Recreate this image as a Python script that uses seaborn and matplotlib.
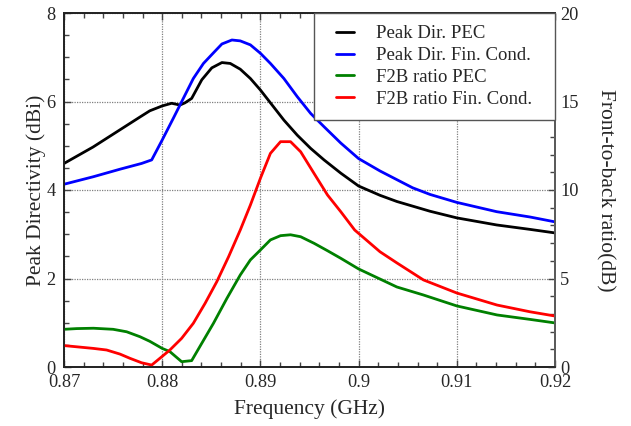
import numpy as np
import pandas as pd
import matplotlib
matplotlib.use("Agg")
import matplotlib.pyplot as plt
from matplotlib.legend_handler import HandlerLine2D
import seaborn as sns

# ---- data ----
f_pec_dir = [0.8700, 0.87295, 0.87774, 0.87874, 0.8800, 0.88096, 0.88181, 0.88232, 0.8830, 0.88403,
             0.88505, 0.88608, 0.88693, 0.88795, 0.88898, 0.8900, 0.89102, 0.89239, 0.89375, 0.89512,
             0.89648, 0.89819, 0.9000, 0.90218, 0.9039, 0.90727, 0.9100, 0.91406, 0.91745, 0.9200]
v_pec_dir = [4.60, 4.97, 5.65, 5.79, 5.90, 5.96, 5.92, 5.97, 6.07, 6.49,
             6.76, 6.88, 6.86, 6.73, 6.52, 6.26, 5.97, 5.58, 5.24, 4.94,
             4.68, 4.38, 4.09, 3.88, 3.74, 3.52, 3.37, 3.21, 3.11, 3.03]

f_fin_dir = [0.8700, 0.87299, 0.8757, 0.8779, 0.87893, 0.8800, 0.88113, 0.88215, 0.88317, 0.8842,
             0.88522, 0.88608, 0.8871, 0.88795, 0.88898, 0.8900, 0.89102, 0.89239, 0.89375, 0.89512,
             0.89648, 0.89819, 0.9000, 0.90218, 0.9055, 0.90727, 0.9100, 0.91406, 0.91745, 0.9200]
v_fin_dir = [4.13, 4.30, 4.47, 4.60, 4.68, 5.13, 5.62, 6.07, 6.52, 6.86,
             7.10, 7.30, 7.39, 7.37, 7.28, 7.09, 6.86, 6.52, 6.11, 5.73,
             5.43, 5.06, 4.71, 4.43, 4.05, 3.90, 3.72, 3.51, 3.39, 3.28]

f_pec_f2b = [0.8700, 0.8713, 0.8730, 0.8750, 0.87638, 0.87774, 0.87874, 0.8800, 0.88078, 0.88198,
             0.8830, 0.88403, 0.88522, 0.88659, 0.88795, 0.88898, 0.8900, 0.89102, 0.89205, 0.89307,
             0.8941, 0.89546, 0.89683, 0.89819, 0.9000, 0.90218, 0.9039, 0.90659, 0.9100, 0.9141,
             0.91745, 0.9200]
v_pec_f2b = [2.13, 2.17, 2.19, 2.13, 1.99, 1.71, 1.45, 1.05, 0.87, 0.30,
             0.36, 1.34, 2.47, 3.88, 5.20, 6.05, 6.61, 7.18, 7.42, 7.47,
             7.36, 6.99, 6.57, 6.14, 5.54, 4.97, 4.52, 4.07, 3.45, 2.94,
             2.69, 2.49]

f_fin_f2b = [0.8700, 0.8730, 0.87434, 0.8757, 0.87672, 0.8779, 0.87893, 0.87976, 0.88078, 0.88198,
             0.88317, 0.88437, 0.88556, 0.88676, 0.88795, 0.88898, 0.8900, 0.89102, 0.89205, 0.89307,
             0.8941, 0.89546, 0.89683, 0.89819, 0.8996, 0.90218, 0.9039, 0.9066, 0.9100, 0.9141,
             0.91745, 0.9200]
v_fin_f2b = [1.21, 1.05, 0.96, 0.73, 0.49, 0.24, 0.11, 0.49, 0.96, 1.62,
             2.47, 3.60, 4.82, 6.23, 7.74, 9.15, 10.66, 12.07, 12.73, 12.73,
             12.16, 10.94, 9.72, 8.77, 7.74, 6.51, 5.88, 4.92, 4.18, 3.50,
             3.12, 2.88]

labels = ["Peak Dir. PEC", "Peak Dir. Fin. Cond.", "F2B ratio PEC", "F2B ratio Fin. Cond."]
x_ticks = [0.87, 0.88, 0.89, 0.90, 0.91, 0.92]
x_ticklabels = ["0.87", "0.88", "0.89", "0.9", "0.91", "0.92"]

sns.set_style("ticks")
plt.rcParams["font.family"] = ["Liberation Serif", "DejaVu Serif"]
TICK_FS = 13.2
LAB_FS = 15.5
LEG_FS = 13.5

fig = plt.figure(figsize=(6.31, 4.26), dpi=100)
ax = fig.add_axes([64 / 631, 1 - 367 / 426, (555 - 64) / 631, (367 - 13) / 426])
ax2 = ax.twinx()

lw = 2.0
df1 = pd.DataFrame({"f": f_pec_dir, "v": v_pec_dir})
df2 = pd.DataFrame({"f": f_fin_dir, "v": v_fin_dir})
df3 = pd.DataFrame({"f": f_pec_f2b, "v": v_pec_f2b})
df4 = pd.DataFrame({"f": f_fin_f2b, "v": v_fin_f2b})
sns.lineplot(data=df1, x="f", y="v", ax=ax, color="black", lw=lw, label=labels[0])
sns.lineplot(data=df2, x="f", y="v", ax=ax, color="#0000ff", lw=lw, label=labels[1])
sns.lineplot(data=df3, x="f", y="v", ax=ax2, color="#008000", lw=lw, label=labels[2])
sns.lineplot(data=df4, x="f", y="v", ax=ax2, color="#ff0000", lw=lw, label=labels[3])
for a in (ax, ax2):
    if a.get_legend() is not None:
        a.get_legend().remove()

ax.set_xlim(0.87, 0.92)
ax.set_ylim(0, 8)
ax2.set_ylim(0, 20)
ax.set_xticks(x_ticks)
ax.set_xticklabels(x_ticklabels)
ax.set_xticks(np.arange(0.87, 0.9201, 0.002), minor=True)
ax.set_yticks([0, 2, 4, 6, 8])
ax.set_yticks(np.arange(0, 8.01, 0.5), minor=True)
ax2.set_yticks([0, 5, 10, 15, 20])
ax2.set_yticks(np.arange(0, 20.01, 1), minor=True)

ax.grid(True, which="major", linestyle=(0, (1, 1)), color="#808080", linewidth=0.9)
ax2.grid(False)

ax.tick_params(which="both", direction="in", top=True, right=False, labelsize=TICK_FS, width=1, color="#444444")
ax.tick_params(which="major", length=5)
ax.tick_params(which="minor", length=3.5)
ax.tick_params(axis="y", pad=6)
ax.tick_params(axis="x", pad=5)
ax2.tick_params(which="both", direction="in", labelsize=TICK_FS, width=1, color="#444444")
ax2.tick_params(which="major", length=5)
ax2.tick_params(which="minor", length=3.5)

for s in ax.spines.values():
    s.set_linewidth(1.2)
    s.set_color("black")
for s in ax2.spines.values():
    s.set_linewidth(1.2)
ax2.spines["right"].set_color("#666666")

ax.set_xlabel("Frequency (GHz)", fontsize=LAB_FS, labelpad=6)
ax.set_ylabel("Peak Directivity (dBi)", fontsize=LAB_FS, labelpad=0)
ax2.set_ylabel("Front-to-back ratio(dB)", fontsize=LAB_FS, rotation=270, labelpad=26)


class ShiftedLine(HandlerLine2D):
    def get_xdata(self, legend, xdescent, ydescent, width, height, fontsize):
        x0 = -xdescent + width * 0.36
        x1 = -xdescent + width
        xd = np.array([x0, x1])
        return xd, xd


h1, l1 = ax.get_legend_handles_labels()
h2, l2 = ax2.get_legend_handles_labels()
x0 = (314 - 64) / 491
leg = ax2.legend(h1 + h2, l1 + l2, loc="upper left", bbox_to_anchor=(x0, 0, 1 - x0, 1.0),
                 mode="expand", borderaxespad=0, fontsize=LEG_FS, frameon=True, fancybox=False,
                 framealpha=1, edgecolor="#555555", handlelength=1.5,
                 handletextpad=1.15, borderpad=0.65, labelspacing=0.25,
                 handler_map={matplotlib.lines.Line2D: ShiftedLine()})
leg.get_frame().set_linewidth(1.0)

fig.savefig("out.png", dpi=100)
